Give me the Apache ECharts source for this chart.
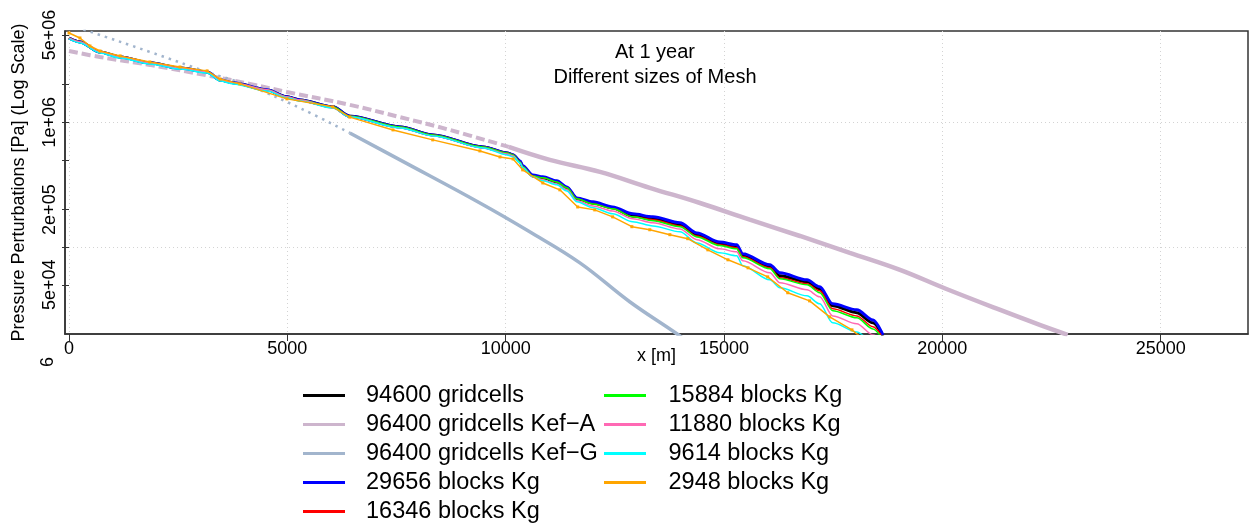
<!DOCTYPE html>
<html>
<head>
<meta charset="utf-8">
<script src="https://cdn.jsdelivr.net/npm/echarts@6/dist/echarts.min.js"></script>
<style>
  html, body { margin: 0; padding: 0; background: #fff; }
  #chart { width: 1249px; height: 527px; }
</style>
</head>
<body>
<div id="chart"></div>
<script>
// distances along x [m] shared by the fine meshes
const xFine = [0, 250, 710, 1170, 1850, 2540, 3160, 3460, 3760, 4530, 4990, 5290, 6040, 6430, 7580, 8330, 9480,
  10030, 10170, 10330, 10390, 10620, 10850, 11170, 11400, 11630, 12000, 12450, 12910, 13370, 13990, 14380,
  14900, 15290, 15430, 16050, 16280, 16900, 17190, 17490, 18040, 18410, 18640];

// pressure perturbations [Pa]
const p94600 = [4.73e6, 4.40e6, 3.66e6, 3.33e6, 2.99e6, 2.72e6, 2.53e6, 2.18e6, 2.07e6, 1.82e6, 1.60e6, 1.51e6,
  1.33e6, 1.12e6, 9.18e5, 7.93e5, 6.35e5, 5.69e5, 5.48e5, 4.82e5, 4.40e5, 3.72e5, 3.59e5, 3.33e5, 2.99e5,
  2.44e5, 2.26e5, 2.07e5, 1.78e5, 1.69e5, 1.51e5, 1.26e5, 1.06e5, 1.01e5, 8.53e4, 6.97e4, 5.90e4, 5.28e4,
  4.65e4, 3.40e4, 2.99e4, 2.48e4, 1.95e4];
const p29656 = [4.73e6, 4.40e6, 3.66e6, 3.33e6, 2.99e6, 2.72e6, 2.53e6, 2.18e6, 2.07e6, 1.82e6, 1.60e6, 1.51e6,
  1.33e6, 1.12e6, 9.18e5, 7.93e5, 6.35e5, 5.69e5, 5.48e5, 4.91e5, 4.48e5, 3.79e5, 3.66e5, 3.40e5, 3.04e5,
  2.48e5, 2.31e5, 2.10e5, 1.85e5, 1.75e5, 1.57e5, 1.30e5, 1.10e5, 1.045e5, 8.85e4, 7.23e4, 6.24e4, 5.48e4,
  4.82e4, 3.52e4, 3.16e4, 2.62e4, 1.99e4];
const p16346 = [4.73e6, 4.40e6, 3.66e6, 3.33e6, 2.99e6, 2.72e6, 2.53e6, 2.18e6, 2.07e6, 1.82e6, 1.60e6, 1.51e6,
  1.33e6, 1.12e6, 9.18e5, 7.93e5, 6.35e5, 5.69e5, 5.48e5, 4.82e5, 4.40e5, 3.72e5, 3.59e5, 3.33e5, 2.99e5,
  2.44e5, 2.22e5, 2.03e5, 1.75e5, 1.66e5, 1.48e5, 1.23e5, 1.045e5, 9.89e4, 8.38e4, 6.84e4, 5.69e4, 5.09e4,
  4.48e4, 3.21e4, 2.82e4, 2.31e4, 1.88e4];
const p15884 = [4.73e6, 4.40e6, 3.66e6, 3.33e6, 2.99e6, 2.72e6, 2.53e6, 2.18e6, 2.07e6, 1.82e6, 1.60e6, 1.51e6,
  1.33e6, 1.12e6, 9.18e5, 7.93e5, 6.35e5, 5.69e5, 5.48e5, 4.82e5, 4.40e5, 3.72e5, 3.59e5, 3.33e5, 2.99e5,
  2.44e5, 2.22e5, 2.03e5, 1.75e5, 1.63e5, 1.46e5, 1.21e5, 1.03e5, 9.70e4, 8.22e4, 6.71e4, 5.58e4, 5.00e4,
  4.32e4, 3.10e4, 2.72e4, 2.22e4, 1.82e4];
const p11880 = [4.73e6, 4.40e6, 3.66e6, 3.33e6, 2.99e6, 2.72e6, 2.53e6, 2.18e6, 2.07e6, 1.82e6, 1.60e6, 1.51e6,
  1.30e6, 1.10e6, 9.02e5, 7.78e5, 6.24e5, 5.58e5, 5.38e5, 4.73e5, 4.32e5, 3.66e5, 3.46e5, 3.21e5, 2.88e5,
  2.35e5, 2.14e5, 1.95e5, 1.69e5, 1.57e5, 1.40e5, 1.15e5, 9.70e4, 9.18e4, 7.78e4, 6.24e4, 5.19e4, 4.56e4,
  4.01e4, 2.82e4, 2.44e4, 1.99e4, 1.75e4];
const p9614 = [4.65e6, 4.32e6, 3.59e6, 3.27e6, 2.93e6, 2.67e6, 2.48e6, 2.14e6, 2.03e6, 1.78e6, 1.57e6, 1.48e6,
  1.30e6, 1.10e6, 9.02e5, 7.78e5, 6.24e5, 5.48e5, 5.28e5, 4.73e5, 4.32e5, 3.66e5, 3.40e5, 3.16e5, 2.82e5,
  2.31e5, 2.07e5, 1.85e5, 1.60e5, 1.48e5, 1.33e5, 1.08e5, 9.02e4, 8.53e4, 7.10e4, 5.48e4, 4.73e4, 4.08e4,
  3.52e4, 2.48e4, 2.10e4, 1.75e4, 1.57e4];

// coarse mesh 2948 blocks
const x2948 = [0, 250, 480, 710, 1170, 1850, 2540, 3160, 3460, 3910, 4990, 6040, 6430, 7420, 8330, 9410, 9870,
  10170, 10390, 10850, 11240, 11650, 12040, 12450, 12890, 13300, 13760, 14170, 14630, 15090, 15550, 16000,
  16460, 16960, 17420, 17930, 18340];
const p2948 = [5.19e6, 4.73e6, 4.08e6, 3.72e6, 3.40e6, 3.04e6, 2.77e6, 2.58e6, 2.22e6, 2.03e6, 1.54e6, 1.33e6,
  1.10e6, 8.69e5, 7.23e5, 5.90e5, 5.28e5, 5.09e5, 4.16e5, 3.27e5, 2.88e5, 2.10e5, 1.99e5, 1.75e5, 1.46e5,
  1.38e5, 1.26e5, 1.17e5, 9.53e4, 7.93e4, 6.84e4, 5.79e4, 4.32e4, 3.72e4, 2.77e4, 2.18e4, 1.66e4];

// 96400 gridcells with Kef-A and Kef-G
const xKefA = [0, 710, 1850, 3230, 4140, 4990, 6430, 7580, 8720, 10070, 11010, 12160, 13300, 14450, 15590,
  16740, 17880, 19030, 20080, 21310, 22230, 22870];
const pKefA = [3.72e6, 3.33e6, 2.88e6, 2.35e6, 2.03e6, 1.75e6, 1.38e6, 1.10e6, 8.69e5, 6.35e5, 5.00e5, 4.01e5,
  2.99e5, 2.26e5, 1.66e5, 1.23e5, 9.02e4, 6.59e4, 4.65e4, 3.16e4, 2.39e4, 1.99e4];
const xKefG = [0, 435, 1850, 3160, 4140, 5290, 6430, 7580, 9410, 10550, 11700, 12840, 13920, 14220];
const pKefG = [6.01e6, 5.38e6, 3.66e6, 2.53e6, 1.95e6, 1.30e6, 8.22e5, 5.00e5, 2.26e5, 1.33e5, 7.50e4, 3.66e4,
  2.03e4, 1.69e4];
// points are sparse near the well, so the first part of these curves looks broken
const kefASparseEnd = 9;   // index in xKefA
const kefGSparseEnd = 6;   // index in xKefG

const seriesNames = ['94600 gridcells', '96400 gridcells Kef\u2212A', '96400 gridcells Kef\u2212G',
  '29656 blocks Kg', '16346 blocks Kg', '15884 blocks Kg', '11880 blocks Kg', '9614 blocks Kg', '2948 blocks Kg'];

const xTicks = [0, 5000, 10000, 15000, 20000, 25000];
const yTicks = [5e4, 1e5, 2e5, 5e5, 1e6, 2e6, 5e6];
const yLabelValues = [5e4, 2e5, 1e6, 5e6];
const yLabelText = ['5e+04', '2e+05', '1e+06', '5e+06'];

const xMin = -92, xMax = 27000;
const yMin = 2.02e4, yMax = 5.38e6;

const FONT = "'Liberation Sans', Arial, sans-serif";

function pairs(xs, ys) {
  return xs.map((x, i) => [x, ys[i]]);
}

function lineSeries(name, data, color, width, extra) {
  return Object.assign({
    name: name,
    type: 'line',
    data: data,
    yAxisIndex: 0,
    symbol: 'none',
    showSymbol: false,
    clip: true,
    animation: false,
    lineStyle: { color: color, width: width },
    itemStyle: { color: color }
  }, extra || {});
}

// y labels are placed in log10 space on the helper axis
function yLabel(v) {
  const i = yLabelValues.findIndex(t => Math.abs(Math.log10(t) - v) < 1e-6);
  return i >= 0 ? yLabelText[i] : '';
}

const chart = echarts.init(document.getElementById('chart'), null, { renderer: 'canvas' });

const legendIcon = 'path://M0 0H42V3H0Z';
const legendText = { fontSize: 23.5, lineHeight: 29, color: '#000', fontFamily: FONT, padding: [0, 0, 0, 16] };
const smoothFine = { smooth: 0.3, smoothMonotone: 'x' };

const kefA = pairs(xKefA, pKefA);
const kefG = pairs(xKefG, pKefG);

const option = {
  backgroundColor: '#fff',
  animation: false,
  grid: {
    left: 65, right: 1, top: 31, bottom: 193,
    show: true, borderColor: '#333', borderWidth: 1.5,
    containLabel: false, outerBoundsMode: 'none'
  },
  xAxis: {
    type: 'value',
    min: xMin, max: xMax,
    name: 'x [m]',
    nameLocation: 'middle',
    nameGap: 13,
    nameMoveOverlap: false,
    nameTextStyle: { fontSize: 18, color: '#000', fontFamily: FONT },
    axisLine: { show: true, onZero: false, lineStyle: { color: '#333', width: 1.5 } },
    axisTick: { show: true, length: 7, customValues: xTicks, lineStyle: { color: '#333', width: 1 } },
    axisLabel: { customValues: xTicks, fontSize: 18, color: '#000', fontFamily: FONT, margin: 6,
      formatter: v => String(v) },
    splitLine: { show: true, lineStyle: { color: '#d3d3d3', type: [1, 3], width: 1 } }
  },
  yAxis: [
    {
      type: 'log',
      logBase: 10,
      min: yMin, max: yMax,
      axisLine: { show: true, onZero: false, lineStyle: { color: '#333', width: 1.5 } },
      axisTick: { show: false },
      axisLabel: { show: false },
      splitLine: { show: true, showMinLine: false, showMaxLine: false,
        lineStyle: { color: '#d3d3d3', type: [1, 3], width: 1 } }
    },
    {
      type: 'value',
      position: 'left',
      min: Math.log10(yMin), max: Math.log10(yMax),
      name: 'Pressure Perturbations [Pa] (Log Scale)',
      nameLocation: 'middle',
      nameGap: 37,
      nameMoveOverlap: false,
      nameTextStyle: { fontSize: 18, color: '#000', fontFamily: FONT },
      axisLine: { show: false },
      axisTick: { show: true, length: 7, customValues: yTicks.map(Math.log10),
        lineStyle: { color: '#333', width: 1 } },
      axisLabel: {
        customValues: yLabelValues.map(Math.log10),
        rotate: 90,
        margin: 6,
        hideOverlap: false,
        fontSize: 18, color: '#000', fontFamily: FONT,
        formatter: yLabel
      },
      splitLine: { show: false }
    }
  ],
  legend: [
    {
      data: seriesNames.slice(0, 5),
      orient: 'vertical', left: 303, top: 381,
      padding: 0, itemGap: 0, itemWidth: 42, itemHeight: 3,
      icon: legendIcon, selectedMode: false, textStyle: legendText
    },
    {
      data: seriesNames.slice(5),
      orient: 'vertical', left: 604, top: 381,
      padding: 0, itemGap: 0, itemWidth: 45, itemHeight: 3,
      icon: legendIcon, selectedMode: false, textStyle: legendText
    }
  ],
  graphic: [
    {
      type: 'text',
      style: {
        text: 'At 1 year\nDifferent sizes of Mesh',
        x: 655, y: 40, textAlign: 'center', textVerticalAlign: 'top',
        font: '20px ' + FONT, lineHeight: 25, fill: '#000'
      }
    },
    {
      type: 'text',
      x: 48, y: 362, rotation: Math.PI / 2,
      style: { text: '6', textAlign: 'center', textVerticalAlign: 'middle', font: '18px ' + FONT, fill: '#000' }
    }
  ],
  series: [
    lineSeries(seriesNames[0], pairs(xFine, p94600), '#000000', 3, smoothFine),
    lineSeries(seriesNames[1], kefA.slice(0, kefASparseEnd + 1), '#CDB5CD', 4,
      { smooth: 0.4, lineStyle: { color: '#CDB5CD', width: 4, type: [9, 4] } }),
    lineSeries(seriesNames[1], kefA.slice(kefASparseEnd), '#CDB5CD', 4.5, { smooth: 0.4 }),
    lineSeries(seriesNames[2], kefG.slice(0, kefGSparseEnd + 1), '#A2B5CD', 2.5,
      { smooth: 0.4, lineStyle: { color: '#A2B5CD', width: 2.5, type: [2.5, 5] } }),
    lineSeries(seriesNames[2], kefG.slice(kefGSparseEnd), '#A2B5CD', 3.5, { smooth: 0.4 }),
    lineSeries(seriesNames[3], pairs(xFine, p29656), '#0000FF', 3, smoothFine),
    lineSeries(seriesNames[4], pairs(xFine, p16346), '#FF0000', 1.5, smoothFine),
    lineSeries(seriesNames[5], pairs(xFine, p15884), '#00FF00', 1.5, smoothFine),
    lineSeries(seriesNames[6], pairs(xFine, p11880), '#FF69B4', 1.5, smoothFine),
    lineSeries(seriesNames[7], pairs(xFine, p9614), '#00FFFF', 1.5, smoothFine),
    lineSeries(seriesNames[8], pairs(x2948, p2948), '#FFA500', 1.5,
      { symbol: 'rect', symbolSize: 3, showSymbol: true })
  ]
};

chart.setOption(option);
</script>
</body>
</html>
